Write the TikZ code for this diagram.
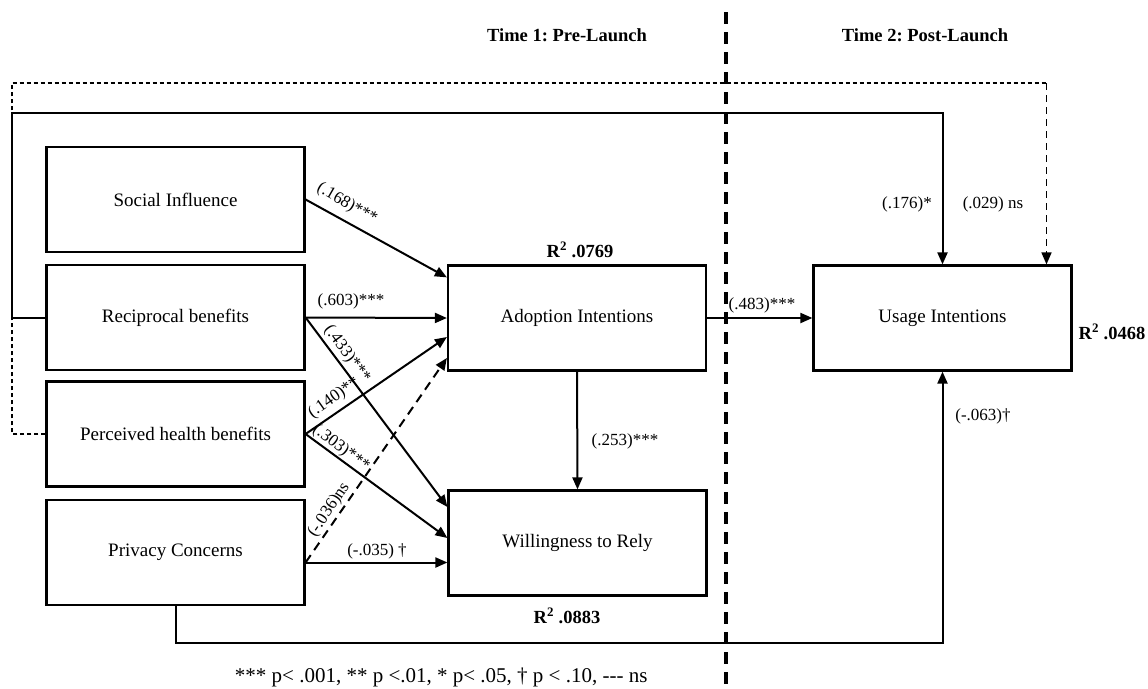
\documentclass[tikz,border=0pt]{standalone}
\usepackage{fontspec}
\setmainfont{Liberation Serif}
\usetikzlibrary{arrows.meta}
\frenchspacing
\begin{document}
\begin{tikzpicture}[x=1pt,y=-1pt,
  construct/.style={draw,line width=2.2pt,minimum width=258pt,minimum height=105pt,inner sep=0pt,font=\fontsize{19}{22}\selectfont},
  effect/.style={line width=2pt,-{Triangle[length=12pt,width=10pt]}},
  nseffect/.style={effect,dash pattern=on 9pt off 6pt},
  coef/.style={font=\fontsize{17}{20}\selectfont,inner sep=0pt},
  rsq/.style={font=\bfseries\fontsize{18.5}{22}\selectfont,anchor=base},
  heading/.style={font=\bfseries\fontsize{18.5}{22}\selectfont}]
\useasboundingbox (0,0) rectangle (1148,688);

\node[construct] (social) at (175.5,199.5) {Social Influence};
\node[construct] (recip) at (175.5,317.5) {Reciprocal benefits};
\node[construct] (health) at (175.5,434) {Perceived health benefits};
\node[construct] (privacy) at (175.5,552.5) {Privacy Concerns};
\node[construct] (adopt) at (577,318) {Adoption Intentions};
\node[construct] (rely) at (577.5,543) {Willingness to Rely};
\node[construct] (usage) at (942.5,318) {Usage Intentions};

\node[heading] (time1) at (567,35) {Time 1: Pre-Launch};
\node[heading] (time2) at (925,35) {Time 2: Post-Launch};
\draw[line width=3.2pt,dash pattern=on 12pt off 8pt] (726,12) -- (726,686);

\coordinate (solidL) at (12,113);
\coordinate (dashL) at (12,83);
\coordinate (dashR) at (1046.5,83);
\coordinate (botline) at (0,643);
\coordinate (pc) at ([yshift=-10pt]privacy.east);

\draw[effect] (social.east) -- ([yshift=-13pt]adopt.north west);
\draw[effect] (recip.east) -- (adopt.west);
\draw[effect] (health.east) -- ([yshift=-19pt]adopt.west);
\draw[nseffect] (pc) -- ([yshift=-40pt]adopt.west);
\draw[effect] (recip.east) -- ([yshift=36pt]rely.west);
\draw[effect] (health.east) -- ([yshift=5pt]rely.west);
\draw[effect] (pc) -- (pc -| rely.west);
\draw[effect] (adopt.south) -- (rely.north);
\draw[effect] (adopt.east) -- (usage.west);
\draw[effect] (recip.west) -| (solidL) -| (usage.north);
\draw[line width=1.1pt,dash pattern=on 4pt off 3pt] (health.west) -| (dashL) -- (dashR);
\draw[effect,line width=1.6pt,dash pattern=on 7pt off 5pt] (dashR) -- (dashR |- usage.north);
\draw[effect] (privacy.south) -- (privacy.south |- botline) -| (usage.south);

\node[coef,rotate=-30] (c168) at (347,204) {(.168)***};
\node[coef] (c603) at (351,301) {(.603)***};
\node[coef,rotate=-54] (c433) at (347,354) {(.433)***};
\node[coef,rotate=35] (c140) at (334,398) {(.140)**};
\node[coef,rotate=-37] (c303) at (341,448) {(.303)***};
\node[coef,rotate=56] (c036) at (329,510) {(-.036)ns};
\node[coef] (c035) at (377,551) {(-.035) †};
\node[coef] (c253) at (625,441) {(.253)***};
\node[coef] (c483) at (762,305) {(.483)***};
\node[coef] (c176) at (907,204) {(.176)*};
\node[coef] (c029) at (993,204) {(.029) ns};
\node[coef] (c063) at (983,416) {(-.063)†};

\node[rsq] (r1) at (580,257) {R\textsuperscript{2} .0769};
\node[rsq] (r2) at (567,623) {R\textsuperscript{2} .0883};
\node[rsq] (r3) at (1112,339) {R\textsuperscript{2} .0468};

\node[font=\fontsize{21}{24}\selectfont,anchor=east] (legend) at (651,677) {*** p< .001, ** p <.01, * p< .05, † p < .10, {-}{-}{-} ns};
\end{tikzpicture}
\end{document}
